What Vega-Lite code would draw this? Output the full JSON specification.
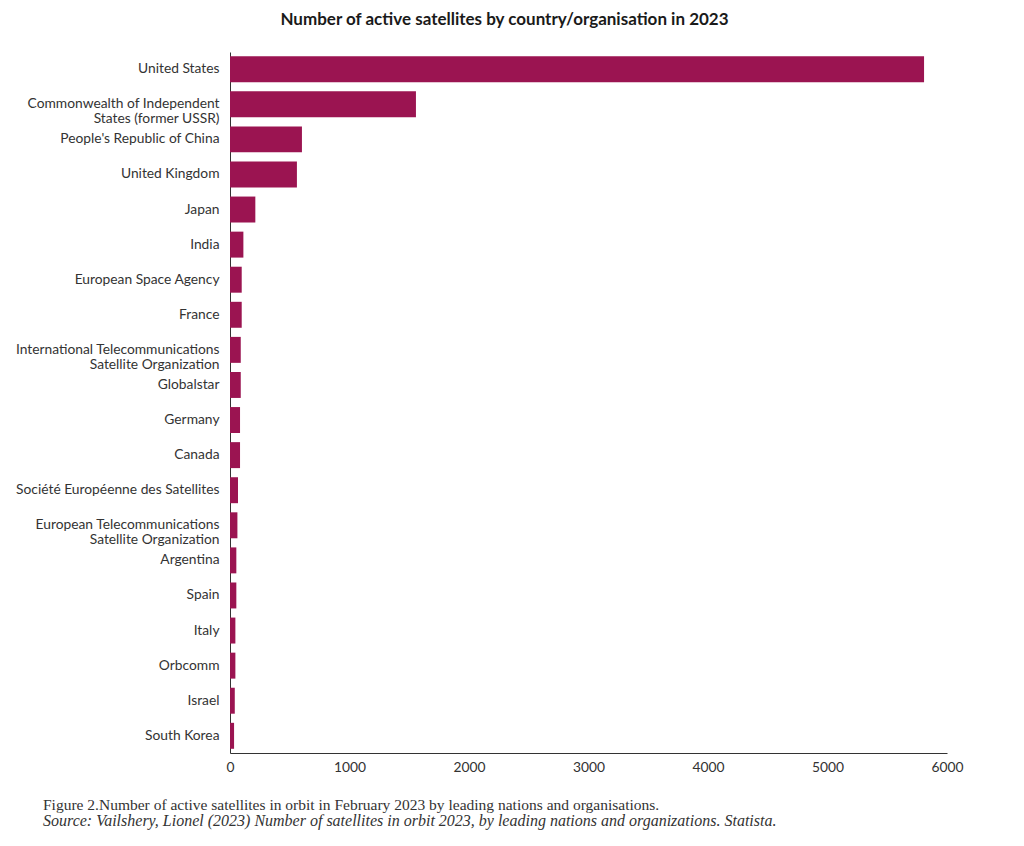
{
  "$schema": "https://vega.github.io/schema/vega-lite/v6.json",
  "background": "white",
  "padding": {"left": 5, "top": 11, "right": 5, "bottom": 5},
  "config": {"view": {"stroke": null}},
  "title": {
    "text": "Figure 2.Number of active satellites in orbit in February 2023 by leading nations and organisations.",
    "subtitle": "Source: Vailshery, Lionel (2023) Number of satellites in orbit 2023, by leading nations and organizations. Statista.",
    "orient": "bottom",
    "anchor": "start",
    "dx": 38,
    "offset": 24,
    "font": "Liberation Serif",
    "fontSize": 15.5,
    "fontWeight": "normal",
    "color": "#333333",
    "subtitleFont": "Liberation Serif",
    "subtitleFontSize": 16,
    "subtitleFontStyle": "italic",
    "subtitleColor": "#333333",
    "subtitlePadding": 0
  },
  "vconcat": [
    {
      "title": {
        "text": "Number of active satellites by country/organisation in 2023",
        "font": "Lato",
        "fontSize": 17,
        "fontWeight": "bold",
        "color": "#1a1a1a",
        "anchor": "middle",
        "dx": -84,
        "offset": 23
      },
      "width": 717,
      "height": 701,
      "data": {
        "values": [
          {"name": "United States", "count": 5808},
          {"name": "Commonwealth of Independent|States (former USSR)", "count": 1556},
          {"name": "People's Republic of China", "count": 602},
          {"name": "United Kingdom", "count": 560},
          {"name": "Japan", "count": 212},
          {"name": "India", "count": 112},
          {"name": "European Space Agency", "count": 98},
          {"name": "France", "count": 98},
          {"name": "International Telecommunications|Satellite Organization", "count": 90},
          {"name": "Globalstar", "count": 90},
          {"name": "Germany", "count": 84},
          {"name": "Canada", "count": 84},
          {"name": "Société Européenne des Satellites", "count": 67},
          {"name": "European Telecommunications|Satellite Organization", "count": 62},
          {"name": "Argentina", "count": 53},
          {"name": "Spain", "count": 53},
          {"name": "Italy", "count": 45},
          {"name": "Orbcomm", "count": 45},
          {"name": "Israel", "count": 40},
          {"name": "South Korea", "count": 34}
        ]
      },
      "mark": {"type": "bar", "color": "#9B1451"},
      "encoding": {
        "y": {
          "field": "name",
          "type": "nominal",
          "sort": null,
          "scale": {"paddingInner": 0.26, "paddingOuter": 0.12},
          "axis": {
            "title": null,
            "labelExpr": "split(datum.label, '|')",
            "ticks": false,
            "domain": true,
            "domainColor": "#333333",
            "labelFont": "Lato",
            "labelFontSize": 13.8,
            "labelColor": "#333333",
            "labelPadding": 11,
            "labelLineHeight": 15,
            "labelLimit": 300,
            "minExtent": 225,
            "maxExtent": 225
          }
        },
        "x": {
          "field": "count",
          "type": "quantitative",
          "scale": {"domain": [0, 6000], "nice": false},
          "axis": {
            "title": null,
            "values": [0, 1000, 2000, 3000, 4000, 5000, 6000],
            "format": "d",
            "grid": false,
            "ticks": false,
            "domainColor": "#333333",
            "labelFont": "Lato",
            "labelFontSize": 13.8,
            "labelColor": "#333333",
            "labelPadding": 7,
            "labelFlush": false
          }
        }
      }
    }
  ]
}
